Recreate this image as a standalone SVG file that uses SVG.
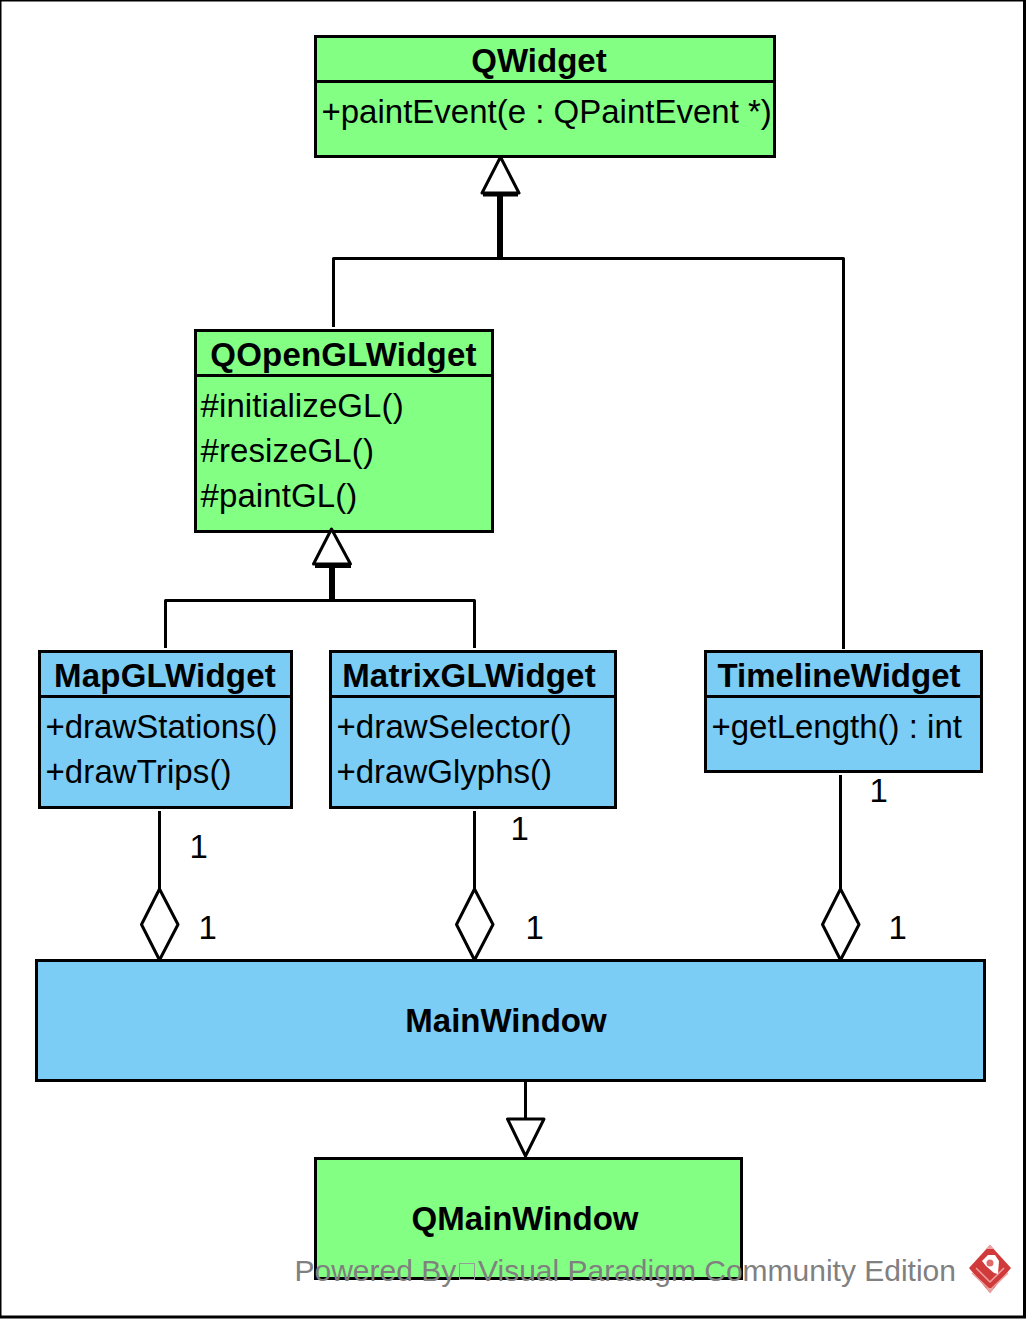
<svg xmlns="http://www.w3.org/2000/svg" width="1026" height="1320" viewBox="0 0 1026 1320">
<style>
text{font-family:"Liberation Sans",Arial,sans-serif;font-size:33px;fill:#000}
.t{font-weight:bold;text-anchor:middle}
.box{stroke:#000;stroke-width:3}
.g{fill:#83ff83}
.b{fill:#7bcdf5}
.ln{fill:none;stroke:#000;stroke-width:3;stroke-linejoin:round}
.thick{fill:none;stroke:#000;stroke-width:6}
.head{fill:#fff;stroke:#000;stroke-width:3;stroke-linejoin:round}
.wm{fill:#808080;font-size:30px}
.s1{letter-spacing:.2px}
.s2{letter-spacing:.1px}
</style>
<rect x="0" y="0" width="1024.500" height="1317" fill="#fff" stroke="#000" stroke-width="3"/>
<g id="QWidget">
<rect class="box g" x="315.500" y="36.500" width="459" height="120"/>
<path class="ln" d="M315 81.500H775"/>
<text class="t" x="539" y="72">QWidget</text>
<text x="321.500" y="123">+paintEvent(e : QPaintEvent *)</text>
</g>
<g id="QOpenGLWidget">
<rect class="box g" x="195.500" y="330.500" width="297" height="201"/>
<path class="ln" d="M195 375.500H493"/>
<text class="t s1" x="343.500" y="366">QOpenGLWidget</text>
<text class="s2" x="200.500" y="417">#initializeGL()</text>
<text class="s2" x="200.500" y="462">#resizeGL()</text>
<text class="s2" x="200.500" y="507">#paintGL()</text>
</g>
<g id="MapGLWidget">
<rect class="box b" x="39.500" y="651.500" width="252" height="156"/>
<path class="ln" d="M39 696.500H292"/>
<text class="t s1" x="165" y="687">MapGLWidget</text>
<text x="45.500" y="738">+drawStations()</text>
<text class="s2" x="45.500" y="783">+drawTrips()</text>
</g>
<g id="MatrixGLWidget">
<rect class="box b" x="330.500" y="651.500" width="285" height="156"/>
<path class="ln" d="M330 696.500H616"/>
<text class="t s1" x="469" y="687">MatrixGLWidget</text>
<text class="s2" x="336.500" y="738">+drawSelector()</text>
<text x="336.500" y="783">+drawGlyphs()</text>
</g>
<g id="TimelineWidget">
<rect class="box b" x="705.500" y="651.500" width="276" height="120"/>
<path class="ln" d="M705 696.500H982"/>
<text class="t" x="839" y="687">TimelineWidget</text>
<text x="711.500" y="738">+getLength() : int</text>
</g>
<g id="MainWindow">
<rect class="box b" x="36.500" y="960.500" width="948" height="120"/>
<text class="t" x="506" y="1031.500">MainWindow</text>
</g>
<g id="QMainWindow">
<rect class="box g" x="315.500" y="1158.500" width="426" height="120"/>
<text class="t" x="525" y="1229.500">QMainWindow</text>
</g>
<g id="connectors">
<path class="ln" d="M333.500 327V258.500H843.500V649"/>
<path class="thick" d="M500 258V194"/>
<path class="head" d="M500.500 157L519 193H482Z"/>
<path class="thick" d="M483 194.500H518" style="stroke-width:4"/>
<path class="ln" d="M165.500 648V600.500H474.500V648"/>
<path class="thick" d="M332 600V565"/>
<path class="head" d="M331.500 529L350.500 564H313.500Z"/>
<path class="thick" d="M315 566H351" style="stroke-width:4"/>
<path class="ln" d="M159.500 811V889"/>
<path class="head" d="M159.500 889L178 924.500L159.500 960L141.500 924.500Z"/>
<path class="ln" d="M474.500 811V889"/>
<path class="head" d="M474.500 889L493 924.500L474.500 960L456.500 924.500Z"/>
<path class="ln" d="M840.500 775V889"/>
<path class="head" d="M840.500 889L859 924.500L840.500 960L822.500 924.500Z"/>
<path class="ln" d="M525.500 1081V1119"/>
<path class="head" d="M507.500 1119H544L525.500 1156Z"/>
<text x="189.500" y="857.500">1</text>
<text x="198.500" y="938.500">1</text>
<text x="510.500" y="839.500">1</text>
<text x="525.500" y="938.500">1</text>
<text x="869.500" y="801.500">1</text>
<text x="888.500" y="938.500">1</text>
</g>
<g id="watermark">
<text class="wm" x="294.500" y="1281">Powered By</text>
<rect x="459.500" y="1263.500" width="15" height="16" fill="none" stroke="#9a9a9a" stroke-width="1"/>
<text class="wm" x="478" y="1281">Visual Paradigm Community Edition</text>
<path d="M990 1245L1011 1268L990 1293L969 1268Z" fill="#d03a3a"/>
<path d="M990 1245L994 1249H986ZM990 1293L986 1288H994Z" fill="#eda0a0"/>
<path d="M972 1273L990 1290L1008 1273M976 1268L990 1282L1004 1268" fill="none" stroke="#eda0a0" stroke-width="1.500"/>
<path d="M982 1261L988 1255H995L999 1261L998 1274L994 1273L986 1266Z" fill="#fff"/>
<ellipse cx="990" cy="1263" rx="3.500" ry="3.500" fill="#e06a6a"/>
</g>
</svg>
